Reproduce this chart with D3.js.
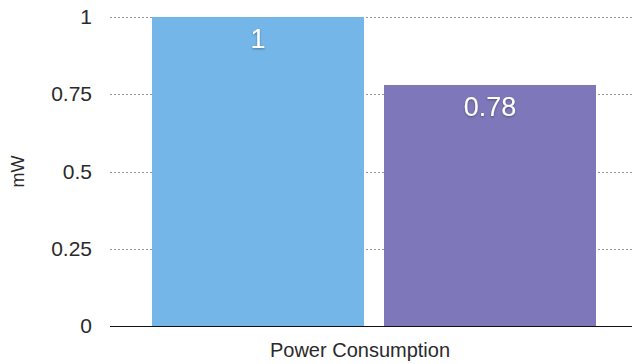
<!DOCTYPE html>
<html>
<head>
<meta charset="utf-8">
<script src="https://cdn.jsdelivr.net/npm/d3@7"></script>
<style>
    body { margin: 0; background: #fff; }
    text { font-family: "Liberation Sans", Arial, sans-serif; }
</style>
</head>
<body>
<div id="chart"></div>
<script>
// data
let categories = ["Power Consumption"];
let seriesNames = ["A", "B"];
let seriesValues = [1, 0.78];
let seriesColors = ["#74b6e8", "#7e78ba"];
let tickValues = [0, 0.25, 0.5, 0.75, 1];
let tickLabels = ["0", "0.25", "0.5", "0.75", "1"];

let width = 632, height = 364;
let margin = {top: 17, right: 0, bottom: 38, left: 110};

let svg = d3.select("#chart").append("svg")
    .attr("width", width)
    .attr("height", height);

let defs = svg.append("defs");
let shadow = defs.append("filter").attr("id", "shadow")
    .attr("x", "-20%").attr("y", "-20%").attr("width", "140%").attr("height", "140%");
shadow.append("feDropShadow")
    .attr("dx", 0).attr("dy", 1).attr("stdDeviation", 1)
    .attr("flood-color", "#000").attr("flood-opacity", 0.35);

let y = d3.scaleLinear()
    .domain([0, 1])
    .range([height - margin.bottom, margin.top]);

let x0 = d3.scaleBand()
    .domain(categories)
    .range([margin.left, 638])
    .paddingInner(0)
    .paddingOuter(0.0946);

let x1 = d3.scaleBand()
    .domain(seriesNames)
    .range([0, x0.bandwidth()])
    .paddingInner(0.0862);

// gridlines
svg.append("g")
    .selectAll("line")
    .data(tickValues.filter(d => d > 0))
    .enter()
    .append("line")
    .attr("x1", margin.left)
    .attr("x2", width - margin.right)
    .attr("y1", d => Math.round(y(d)) + 0.5)
    .attr("y2", d => Math.round(y(d)) + 0.5)
    .attr("stroke", "#999")
    .attr("stroke-width", 1)
    .attr("stroke-dasharray", "2,2");

// y axis labels
let yAxis = d3.axisLeft(y)
    .tickValues(tickValues)
    .tickFormat((d, i) => tickLabels[i])
    .tickSize(0)
    .tickPadding(18);

svg.append("g")
    .attr("transform", "translate(" + margin.left + ",0)")
    .call(yAxis)
    .call(g => g.select(".domain").remove())
    .selectAll("text")
    .style("font-size", "21px")
    .attr("fill", "#2a2a2a");

// bars
let group = svg.append("g")
    .selectAll("g")
    .data(categories)
    .enter()
    .append("g")
    .attr("transform", d => "translate(" + x0(d) + ",0)");

group.selectAll("rect")
    .data(seriesNames.map((s, i) => ({name: s, value: seriesValues[i], color: seriesColors[i]})))
    .enter()
    .append("rect")
    .attr("x", d => x1(d.name))
    .attr("y", d => y(d.value))
    .attr("width", x1.bandwidth())
    .attr("height", d => y(0) - y(d.value))
    .attr("fill", d => d.color);

group.selectAll(".valueLabel")
    .data(seriesNames.map((s, i) => ({name: s, value: seriesValues[i]})))
    .enter()
    .append("text")
    .attr("class", "valueLabel")
    .attr("x", d => x1(d.name) + x1.bandwidth() / 2)
    .attr("y", d => y(d.value) + 31)
    .attr("text-anchor", "middle")
    .style("font-size", "27px")
    .attr("fill", "#fff")
    .attr("filter", "url(#shadow)")
    .text(d => d.value);

// x axis baseline
svg.append("line")
    .attr("x1", margin.left)
    .attr("x2", width - margin.right)
    .attr("y1", y(0) + 0.5)
    .attr("y2", y(0) + 0.5)
    .attr("stroke", "#111")
    .attr("stroke-width", 1);

// category label
svg.append("g")
    .selectAll("text")
    .data(categories)
    .enter()
    .append("text")
    .attr("x", d => x0(d) + x0.bandwidth() / 2 - 14)
    .attr("y", 357)
    .attr("text-anchor", "middle")
    .style("font-size", "20px")
    .attr("fill", "#2a2a2a")
    .text(d => d);

// y axis title
svg.append("text")
    .attr("transform", "translate(24," + y(0.5) + ")rotate(-90)")
    .attr("text-anchor", "middle")
    .style("font-size", "18px")
    .attr("fill", "#2a2a2a")
    .text("mW");
</script>
</body>
</html>
